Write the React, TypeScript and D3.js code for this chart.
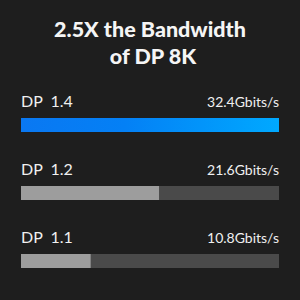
import React, { useEffect, useRef } from "react";
import * as d3 from "d3";

const titleLines = ["2.5X the Bandwidth", "of DP 8K"];
const versions = ["DP 1.4", "DP 1.2", "DP 1.1"];
const speeds = ["32.4Gbits/s", "21.6Gbits/s", "10.8Gbits/s"];
// share of the track that is filled, as drawn
const fillShare = [1, 0.535, 0.27];

const App = () => {
  const svgRef = useRef<SVGSVGElement>(null);

  useEffect(() => {
    document.body.style.margin = "0";
    const width = 300;
    const height = 300;
    const svg = d3.select(svgRef.current);
    svg.selectAll("*").remove();
    svg.attr("width", width).attr("height", height);

    svg.append("rect").attr("width", width).attr("height", height).attr("fill", "#1e1e1e");

    const defs = svg.append("defs");
    const grad = defs
      .append("linearGradient")
      .attr("id", "blueGrad")
      .attr("x1", "0%")
      .attr("x2", "100%");
    grad.append("stop").attr("offset", "0%").attr("stop-color", "#0a78f2");
    grad.append("stop").attr("offset", "40%").attr("stop-color", "#0480f5");
    grad.append("stop").attr("offset", "100%").attr("stop-color", "#00a9ff");

    // title
    svg
      .append("g")
      .selectAll("text")
      .data(titleLines)
      .enter()
      .append("text")
      .attr("x", (d, i) => (i === 0 ? 150 : 153))
      .attr("y", (d, i) => 37 + i * 27)
      .attr("text-anchor", "middle")
      .style("font-family", "Lato, 'Open Sans', sans-serif")
      .style("font-weight", "900")
      .style("font-size", "21.5px")
      .attr("fill", "#f5f5f5")
      .text((d) => d);

    const x = d3.scaleLinear().domain([0, 1]).range([21, 279]);
    const y = d3.scaleBand().domain(versions).range([95, 299]).paddingInner(0);

    const rows = svg
      .selectAll(".row")
      .data(versions)
      .enter()
      .append("g")
      .attr("transform", (d) => `translate(0,${y(d)})`);

    rows
      .append("text")
      .attr("x", x(0))
      .attr("y", 12)
      .style("font-family", "Lato, 'Open Sans', sans-serif")
      .style("font-size", "16px")
      .style("white-space", "pre")
      .attr("fill", "#f0f0f0")
      .text((d) => d.replace(" ", "  "));

    rows
      .append("text")
      .attr("x", x(1))
      .attr("y", 12)
      .attr("text-anchor", "end")
      .style("font-family", "Lato, 'Open Sans', sans-serif")
      .style("font-size", "14px")
      .attr("fill", "#f0f0f0")
      .text((d, i) => speeds[i]);

    rows
      .append("rect")
      .attr("x", x(0))
      .attr("y", 23)
      .attr("width", x(1) - x(0))
      .attr("height", 14)
      .attr("fill", "#4a4a4a");

    rows
      .append("rect")
      .attr("x", x(0))
      .attr("y", 23)
      .attr("width", (d, i) => x(fillShare[i]) - x(0))
      .attr("height", 14)
      .attr("fill", (d, i) => (i === 0 ? "url(#blueGrad)" : "#9d9d9d"));
  }, []);

  return (
    <div style={{ width: 300, height: 300 }}>
      <svg ref={svgRef} style={{ display: "block" }} />
    </div>
  );
};

export default App;
